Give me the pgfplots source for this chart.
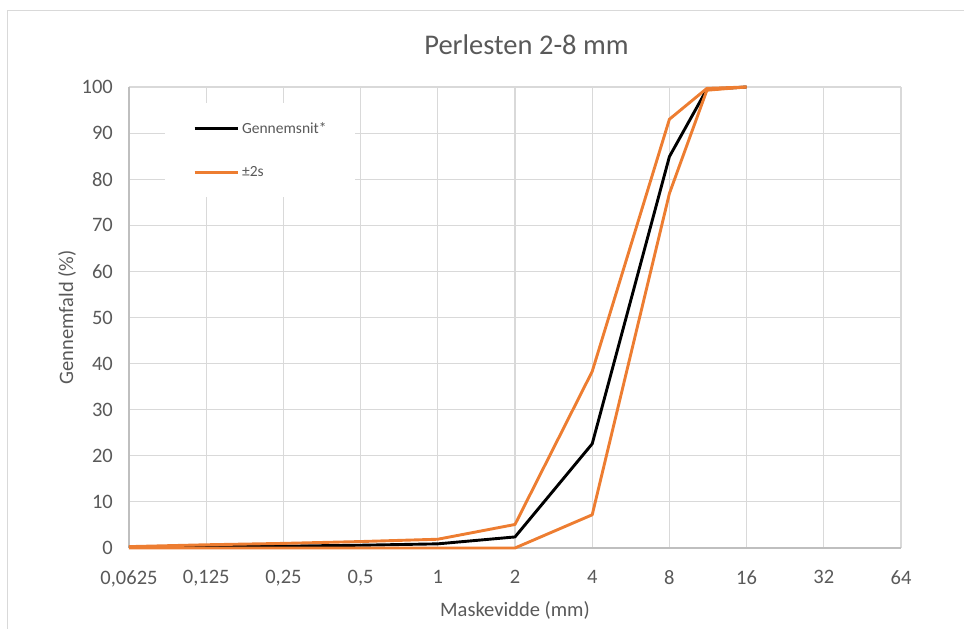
\documentclass[border=0pt]{standalone}
\usepackage{fontspec}
\setmainfont{Carlito}
\usepackage{pgfplots}
\pgfplotsset{compat=1.18}
\definecolor{txt}{HTML}{595959}
\definecolor{gridc}{HTML}{D9D9D9}
\definecolor{axc}{HTML}{BFBFBF}
\definecolor{orng}{HTML}{ED7D31}
\begin{document}
\begin{tikzpicture}
\useasboundingbox (0,0) rectangle (964pt,629pt);
% chart frame (left and top visible)
\draw[gridc, line width=1pt] (7.5pt,0) -- (7.5pt,618pt) -- (964pt,618pt);
\node[text=txt, font=\fontsize{28.5}{30}\selectfont, anchor=base] at (526.5pt,574pt) {Perlesten 2-8 mm};
\begin{axis}[
  at={(129pt,81pt)}, anchor=south west,
  scale only axis, width=772pt, height=461pt,
  xmode=log, log basis x=2,
  xmin=0.0625, xmax=64, ymin=0, ymax=100,
  xtick={0.0625,0.125,0.25,0.5,1,2,4,8,16,32,64},
  xticklabels={{0,0625},{0,125},{0,25},{0,5},1,2,4,8,16,32,64},
  ytick={0,10,...,100},
  /pgf/number format/assume math mode=true,
  grid=major,
  major grid style={draw=gridc, line width=1.1pt},
  axis x line*=bottom, axis y line*=left,
  axis line style={draw=axc, line width=1.1pt, -},
  major tick length=0pt, tick style={draw=none},
  ticklabel style={font=\fontsize{20.5}{22}\selectfont, text=txt},
  xticklabel style={anchor=north, inner sep=0pt, yshift=-22pt},
  yticklabel style={anchor=east, inner sep=0pt, xshift=-16pt},
  label style={font=\fontsize{20.5}{22}\selectfont, text=txt},
  xlabel={Maskevidde (mm)},
  ylabel={Gennemfald (\%)},
  xlabel style={at={(axis description cs:0.5,-0.1475)}, anchor=base},
  ylabel style={at={(axis description cs:-0.0725,0.5)}, anchor=base},
  clip=false,
  legend style={draw=none, fill=white,
    at={(axis description cs:0.0466,0.9653)}, anchor=north west,
    font=\fontsize{15.5}{17}\selectfont, text=txt,
    inner xsep=28pt, inner ysep=19pt, row sep=32pt, column sep=3pt,
    nodes={inner sep=0pt}},
  legend cell align=left,
  legend image code/.code={\draw[#1] (0pt,0pt) -- (43pt,0pt);},
  every axis plot/.append style={line width=2.9pt, line join=round},
]
\addplot[black] coordinates {
  (0.0625,0.2) (0.125,0.3) (0.25,0.4) (0.5,0.6) (1,0.9)
  (2,2.4) (4,22.6) (8,84.9) (11.2,99.5) (16,100)};
\addlegendentry{Gennemsnit*}
\addplot[orng] coordinates {
  (0.0625,0.3) (0.125,0.7) (0.25,1.0) (0.5,1.4) (1,1.9)
  (2,5.1) (4,38.3) (8,93.0) (11.2,99.7) (16,100)};
\addlegendentry{±2s}
\addplot[orng, forget plot] coordinates {
  (0.0625,0) (0.125,0) (0.25,0) (0.5,0) (1,0)
  (2,0) (4,7.2) (8,76.9) (11.2,99.3) (16,100)};
\end{axis}
\end{tikzpicture}
\end{document}
